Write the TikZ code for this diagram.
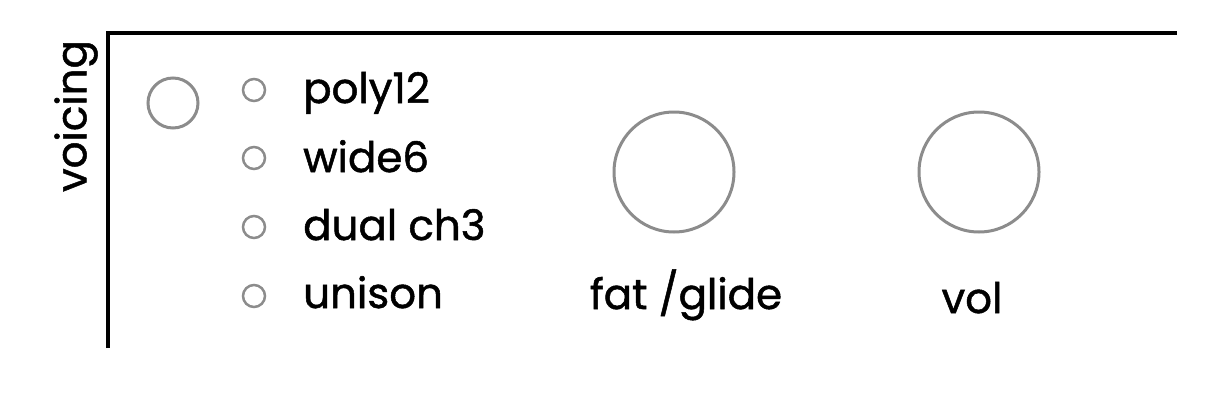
\documentclass[tikz,border=0pt]{standalone}
\usepackage{fontspec}
\setmainfont{Poppins}[BoldFont=Poppins,BoldFeatures={FakeBold=1.2}]
\begin{document}
\begin{tikzpicture}[x=1pt,y=-1pt,
  frame/.style={line width=4pt,black},
  knob/.style={circle,draw=black!45,line width=3pt,inner sep=0pt,minimum size=#1},
  led/.style={circle,draw=black!45,line width=2.5pt,inner sep=0pt,minimum size=22pt},
  lbl/.style={font=\fontsize{42}{48}\selectfont\bfseries,inner sep=0pt}]
\useasboundingbox (0,0) rectangle (1215,407);
\coordinate (fb) at (108,348);
\coordinate (fc) at (108,33);
\coordinate (fr) at (1177,33);
\draw[frame] (fb) -- (fc) -- (fr);
\node[lbl,rotate=90] (voicing) at (76,116) {voicing};
\node[knob=50pt] (vsel) at (173,103) {};
\node[led] (l1) at (254,90) {};
\node[led] (l2) at (254,158) {};
\node[led] (l3) at (254,227) {};
\node[led] (l4) at (254,296) {};
\node[lbl,anchor=base west] (t1) at (303,103) {poly12};
\node[lbl,anchor=base west] (t2) at (303,172) {wide6};
\node[lbl,anchor=base west] (t3) at (303,240) {dual ch3};
\node[lbl,anchor=base west] (t4) at (303,308) {unison};
\node[knob=120pt] (fat) at (674,172) {};
\node[knob=120pt] (vol) at (979,172) {};
\node[lbl,anchor=base] (fatl) at (686,309) {fat /glide};
\node[lbl,anchor=base] (voll) at (972,313) {vol};
\end{tikzpicture}
\end{document}
